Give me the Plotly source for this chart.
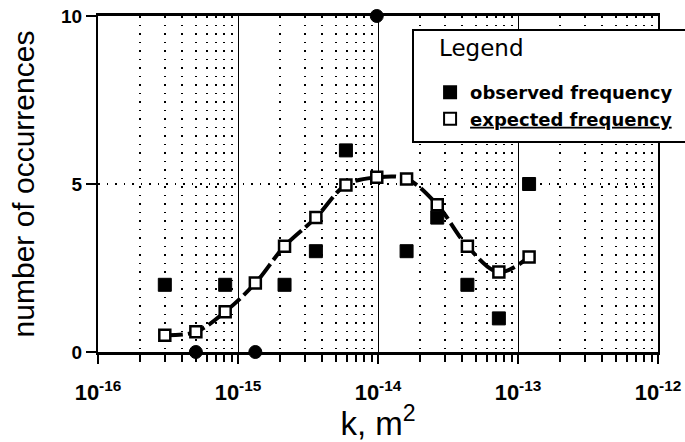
import plotly.graph_objects as go

# ---- data ----
k_values = [3.0e-16, 5.0e-16, 8.1e-16, 1.33e-15, 2.15e-15, 3.6e-15, 5.9e-15,
            9.8e-15, 1.6e-14, 2.65e-14, 4.35e-14, 7.3e-14, 1.2e-13]
observed = [2, 0, 2, 0, 2, 3, 6, 10, 3, 4, 2, 1, 5]
expected = [0.5, 0.6, 1.2, 2.05, 3.15, 4.0, 4.97, 5.2, 5.15, 4.38, 3.15, 2.38, 2.83]
x_tick_exponents = [-16, -15, -14, -13, -12]
y_ticks = [0, 5, 10]

x_tickvals = [10.0 ** e for e in x_tick_exponents]
x_ticktext = ["10<sup>%d</sup>" % e for e in x_tick_exponents]
minor_vals = [m * 10.0 ** e for e in x_tick_exponents[:-1] for m in range(2, 10)]

obs_symbols = ["circle" if v in (min(y_ticks), max(y_ticks)) else "square" for v in observed]

fig = go.Figure()

fig.add_trace(go.Scatter(
    x=k_values, y=observed, mode="markers", name="observed frequency",
    marker=dict(symbol=obs_symbols, size=13, color="black",
                line=dict(color="black", width=1)),
    cliponaxis=False,
))
fig.add_trace(go.Scatter(
    x=k_values, y=expected, mode="lines", showlegend=False, hoverinfo="skip",
    line=dict(color="black", width=4, dash="18px,5px", shape="spline", smoothing=1.0),
))
fig.add_trace(go.Scatter(
    x=k_values, y=expected, mode="markers", name="<u>expected frequency</u>",
    marker=dict(symbol="square", size=11, color="white",
                line=dict(color="black", width=2.5)),
    cliponaxis=False,
))

# legend frame and heading
fig.add_shape(type="rect", xref="paper", yref="paper",
              x0=0.5625, x1=1.06, y0=0.625, y1=0.958,
              line=dict(color="black", width=2), fillcolor="white", layer="above")
fig.add_annotation(xref="paper", yref="paper", x=0.605, y=0.905,
                   xanchor="left", yanchor="middle", showarrow=False,
                   text="Legend", font=dict(family="DejaVu Sans", size=23, color="black"))

fig.update_layout(
    width=685, height=442,
    margin=dict(l=98, r=27, t=16, b=90, autoexpand=False),
    paper_bgcolor="white", plot_bgcolor="white",
    font=dict(family="Liberation Sans", color="black"),
    legend=dict(
        x=0.593, y=0.827, xanchor="left", yanchor="top",
        bgcolor="rgba(0,0,0,0)", borderwidth=0,
        font=dict(family="DejaVu Sans", size=18, weight="bold"),
        itemsizing="constant",
    ),
    showlegend=True,
)

fig.update_xaxes(
    type="log", range=[-16, -12], automargin=False,
    tickmode="array", tickvals=x_tickvals, ticktext=x_ticktext,
    tickfont=dict(family="Liberation Sans", size=22, weight="bold"),
    ticks="outside", ticklen=9, tickwidth=2, tickcolor="black",
    ticklabelstandoff=10,
    showline=True, linecolor="black", linewidth=3, mirror=True,
    showgrid=True, gridcolor="black", gridwidth=1,
    minor=dict(tickmode="array", tickvals=minor_vals, ticks="outside", ticklen=7,
               tickwidth=1.5, tickcolor="black", showgrid=True, gridcolor="black",
               griddash="1.5px,7px", gridwidth=1.5),
    zeroline=False,
    title=dict(text="k, m<sup>2</sup>", font=dict(family="Liberation Sans", size=33), standoff=6),
)
fig.update_yaxes(
    range=[0, 10], automargin=False, tickmode="array", tickvals=y_ticks,
    tickfont=dict(family="Liberation Sans", size=19, weight="bold"),
    ticks="outside", ticklen=10, tickwidth=2, tickcolor="black",
    showline=True, linecolor="black", linewidth=2, mirror=True,
    showgrid=True, gridcolor="black", gridwidth=1.5, griddash="1.5px,7px",
    zeroline=False,
    title=dict(text="number of occurrences", font=dict(family="Liberation Sans", size=30), standoff=18),
)

fig.write_html("out.html")
